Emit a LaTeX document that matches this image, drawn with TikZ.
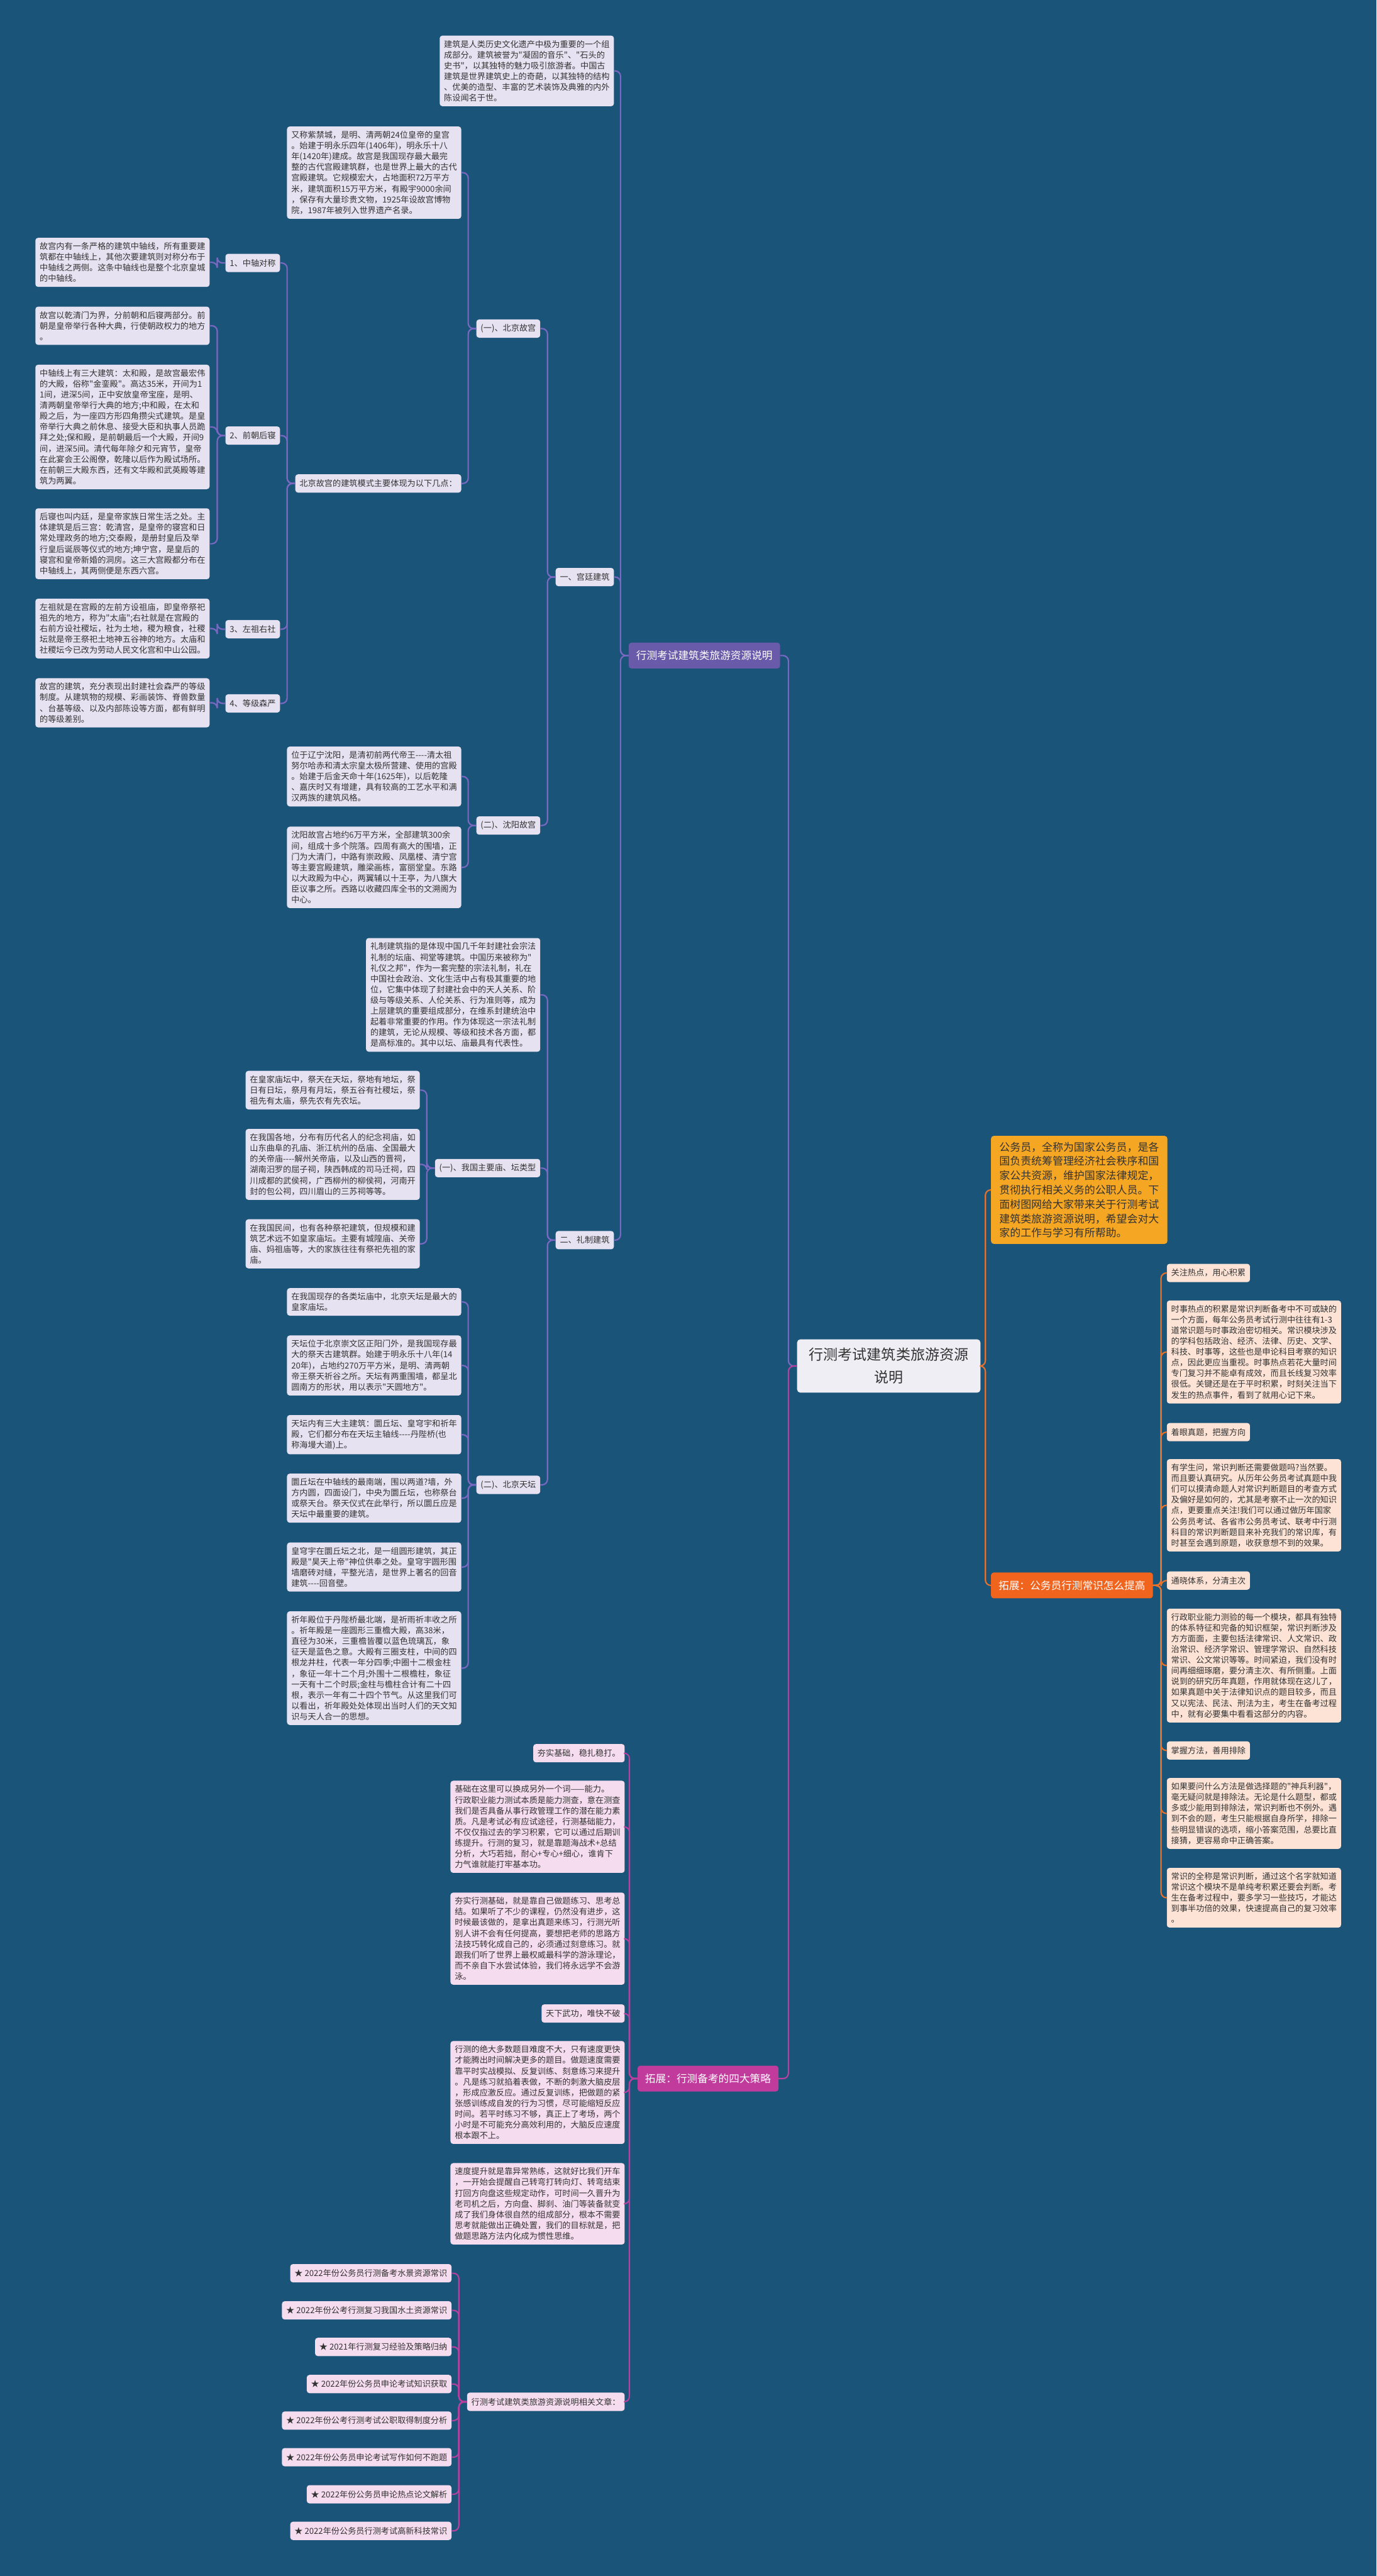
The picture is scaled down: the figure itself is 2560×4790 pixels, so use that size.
\documentclass[tikz,border=0pt]{standalone}
\usepackage{fontspec}
\setmainfont{Noto Sans CJK SC}[Ligatures=TeXOff]
\usepackage{tikz}
\usetikzlibrary{positioning}

\definecolor{bgblue}{HTML}{1B5479}
\definecolor{pdark}{HTML}{6A5AAA}
\definecolor{pline}{HTML}{7B68C4}
\definecolor{plight}{HTML}{E6E2F2}
\definecolor{odark}{HTML}{F0641E}
\definecolor{oline}{HTML}{E8722A}
\definecolor{oyellow}{HTML}{F5A623}
\definecolor{olight}{HTML}{FCE3D5}
\definecolor{mdark}{HTML}{C03B9C}
\definecolor{mline}{HTML}{B8409E}
\definecolor{mlight}{HTML}{F6DCEF}
\definecolor{rootfill}{HTML}{EEEEF4}
\definecolor{txt}{HTML}{333333}

\newcommand\txtsize{\fontsize{15.4}{20}\selectfont}
\newcommand\brsize{\fontsize{19.5}{24}\selectfont}
\newcommand\introsize{\fontsize{19.8}{26.7}\selectfont}
\newcommand\rootsize{\fontsize{27}{42}\selectfont}

\begin{document}
\begin{tikzpicture}[x=1pt, y=-1pt,
  every node/.style={text=txt},
  tbox/.style={fill=#1, rounded corners=5pt, inner xsep=8pt, inner ysep=8.5pt,
    text width=308pt, align=left, font=\txtsize},
  lbl/.style={fill=#1, rounded corners=5pt, inner xsep=8pt, inner ysep=4pt,
    minimum height=34pt, font=\txtsize},
  blbl/.style={fill=#1, text=white, rounded corners=5pt, inner xsep=14pt,
    minimum height=48pt, font=\brsize},
  rootbox/.style={fill=rootfill, rounded corners=6pt, inner xsep=22pt,
    inner ysep=16pt, align=center, font=\rootsize},
  link/.style={draw=#1, line width=2.5pt, rounded corners=10pt}]

\useasboundingbox (0,0) rectangle (2560,4790);
\fill[bgblue] (0,0) rectangle (2560,4790);

% root
\node[rootbox] (root) at (1653,2540) {行测考试建筑类旅游资源\\说明};

% branch: building tourism resources
\node[blbl=pdark, anchor=east] (pb) at (1451,1219) {行测考试建筑类旅游资源说明};
\node[tbox=plight, anchor=north east] (pintro) at (1142,66) {建筑是人类历史文化遗产中极为重要的一个组\\成部分。建筑被誉为"凝固的音乐"、"石头的\\史书"，以其独特的魅力吸引旅游者。中国古\\建筑是世界建筑史上的奇葩，以其独特的结构\\、优美的造型、丰富的艺术装饰及典雅的内外\\陈设闻名于世。};
\node[lbl=plight, anchor=east] (gongting) at (1142,1073) {一、宫廷建筑};
\node[lbl=plight, anchor=east] (lizhi) at (1142,2306) {二、礼制建筑};

% palace buildings
\node[lbl=plight, anchor=east] (gugong) at (1005,611) {(一)、北京故宫};
\node[lbl=plight, anchor=east] (shenyang) at (1005,1535) {(二)、沈阳故宫};
\node[tbox=plight, anchor=north east] (gugongtxt) at (858,235) {又称紫禁城，是明、清两朝24位皇帝的皇宫\\。始建于明永乐四年(1406年)，明永乐十八\\年(1420年)建成。故宫是我国现存最大最完\\整的古代宫殿建筑群，也是世界上最大的古代\\宫殿建筑。它规模宏大，占地面积72万平方\\米，建筑面积15万平方米，有殿宇9000余间\\，保存有大量珍贵文物，1925年设故宫博物\\院，1987年被列入世界遗产名录。};
\node[lbl=plight, anchor=east] (moshi) at (858,899) {北京故宫的建筑模式主要体现为以下几点：};

\node[lbl=plight, anchor=east] (zhou) at (521,489) {1、中轴对称};
\node[lbl=plight, anchor=east] (qian) at (521,810) {2、前朝后寝};
\node[lbl=plight, anchor=east] (zuo) at (521,1170) {3、左祖右社};
\node[lbl=plight, anchor=east] (deng) at (521,1308) {4、等级森严};

\node[tbox=plight, anchor=north east] (zhoutxt) at (390,442) {故宫内有一条严格的建筑中轴线，所有重要建\\筑都在中轴线上，其他次要建筑则对称分布于\\中轴线之两侧。这条中轴线也是整个北京皇城\\的中轴线。};
\node[tbox=plight, anchor=north east] (qiantxtA) at (390,570) {故宫以乾清门为界，分前朝和后寝两部分。前\\朝是皇帝举行各种大典，行使朝政权力的地方\\。};
\node[tbox=plight, anchor=north east] (qiantxtB) at (390,678) {中轴线上有三大建筑：太和殿，是故宫最宏伟\\的大殿，俗称"金銮殿"。高达35米，开间为1\\1间，进深5间，正中安放皇帝宝座，是明、\\清两朝皇帝举行大典的地方;中和殿，在太和\\殿之后，为一座四方形四角攒尖式建筑。是皇\\帝举行大典之前休息、接受大臣和执事人员跪\\拜之处;保和殿，是前朝最后一个大殿，开间9\\间，进深5间。清代每年除夕和元宵节，皇帝\\在此宴会王公阁僚，乾隆以后作为殿试场所。\\在前朝三大殿东西，还有文华殿和武英殿等建\\筑为两翼。};
\node[tbox=plight, anchor=north east] (qiantxtC) at (390,945) {后寝也叫内廷，是皇帝家族日常生活之处。主\\体建筑是后三宫：乾清宫，是皇帝的寝宫和日\\常处理政务的地方;交泰殿，是册封皇后及举\\行皇后诞辰等仪式的地方;坤宁宫，是皇后的\\寝宫和皇帝新婚的洞房。这三大宫殿都分布在\\中轴线上，其两侧便是东西六宫。};
\node[tbox=plight, anchor=north east] (zuotxt) at (390,1113) {左祖就是在宫殿的左前方设祖庙，即皇帝祭祀\\祖先的地方，称为"太庙";右社就是在宫殿的\\右前方设社稷坛，社为土地，稷为粮食，社稷\\坛就是帝王祭祀土地神五谷神的地方。太庙和\\社稷坛今已改为劳动人民文化宫和中山公园。};
\node[tbox=plight, anchor=north east] (dengtxt) at (390,1261) {故宫的建筑，充分表现出封建社会森严的等级\\制度。从建筑物的规模、彩画装饰、脊兽数量\\、台基等级、以及内部陈设等方面，都有鲜明\\的等级差别。};

\node[tbox=plight, anchor=north east] (sytxtA) at (858,1388) {位于辽宁沈阳，是清初前两代帝王----清太祖\\努尔哈赤和清太宗皇太极所营建、使用的宫殿\\。始建于后金天命十年(1625年)，以后乾隆\\、嘉庆时又有增建，具有较高的工艺水平和满\\汉两族的建筑风格。};
\node[tbox=plight, anchor=north east] (sytxtB) at (858,1537) {沈阳故宫占地约6万平方米，全部建筑300余\\间，组成十多个院落。四周有高大的围墙，正\\门为大清门，中路有崇政殿、凤凰楼、清宁宫\\等主要宫殿建筑，雕梁画栋，富丽堂皇。东路\\以大政殿为中心，两翼辅以十王亭，为八旗大\\臣议事之所。西路以收藏四库全书的文溯阁为\\中心。};

% ritual buildings
\node[tbox=plight, anchor=north east] (lztxt) at (1005,1744) {礼制建筑指的是体现中国几千年封建社会宗法\\礼制的坛庙、祠堂等建筑。中国历来被称为"\\礼仪之邦"，作为一套完整的宗法礼制，礼在\\中国社会政治、文化生活中占有极其重要的地\\位，它集中体现了封建社会中的天人关系、阶\\级与等级关系、人伦关系、行为准则等，成为\\上层建筑的重要组成部分，在维系封建统治中\\起着非常重要的作用。作为体现这一宗法礼制\\的建筑，无论从规模、等级和技术各方面，都\\是高标准的。其中以坛、庙最具有代表性。};
\node[lbl=plight, anchor=east] (miaotan) at (1005,2172) {(一)、我国主要庙、坛类型};
\node[lbl=plight, anchor=east] (tiantan) at (1005,2761) {(二)、北京天坛};

\node[tbox=plight, anchor=north east] (mtA) at (781,1991) {在皇家庙坛中，祭天在天坛，祭地有地坛，祭\\日有日坛，祭月有月坛，祭五谷有社稷坛，祭\\祖先有太庙，祭先农有先农坛。};
\node[tbox=plight, anchor=north east] (mtB) at (781,2099) {在我国各地，分布有历代名人的纪念祠庙，如\\山东曲阜的孔庙、浙江杭州的岳庙、全国最大\\的关帝庙----解州关帝庙，以及山西的晋祠，\\湖南汨罗的屈子祠，陕西韩成的司马迁祠，四\\川成都的武侯祠，广西柳州的柳侯祠，河南开\\封的包公祠，四川眉山的三苏祠等等。};
\node[tbox=plight, anchor=north east] (mtC) at (781,2267) {在我国民间，也有各种祭祀建筑，但规模和建\\筑艺术远不如皇家庙坛。主要有城隍庙、关帝\\庙、妈祖庙等，大的家族往往有祭祀先祖的家\\庙。};

\node[tbox=plight, anchor=north east] (ttA) at (858,2395) {在我国现存的各类坛庙中，北京天坛是最大的\\皇家庙坛。};
\node[tbox=plight, anchor=north east] (ttB) at (858,2483) {天坛位于北京崇文区正阳门外，是我国现存最\\大的祭天古建筑群。始建于明永乐十八年(14\\20年)，占地约270万平方米，是明、清两朝\\帝王祭天祈谷之所。天坛有两重围墙，都呈北\\圆南方的形状，用以表示"天圆地方"。};
\node[tbox=plight, anchor=north east] (ttC) at (858,2631) {天坛内有三大主建筑：圜丘坛、皇穹宇和祈年\\殿，它们都分布在天坛主轴线----丹陛桥(也\\称海墁大道)上。};
\node[tbox=plight, anchor=north east] (ttD) at (858,2740) {圜丘坛在中轴线的最南端，围以两道?墙，外\\方内圆，四面设门，中央为圜丘坛，也称祭台\\或祭天台。祭天仪式在此举行，所以圜丘应是\\天坛中最重要的建筑。};
\node[tbox=plight, anchor=north east] (ttE) at (858,2868) {皇穹宇在圜丘坛之北，是一组圆形建筑，其正\\殿是"昊天上帝"神位供奉之处。皇穹宇圆形围\\墙磨砖对缝，平整光洁，是世界上著名的回音\\建筑----回音壁。};
\node[tbox=plight, anchor=north east] (ttF) at (858,2996) {祈年殿位于丹陛桥最北端，是祈雨祈丰收之所\\。祈年殿是一座圆形三重檐大殿，高38米，\\直径为30米，三重檐皆覆以蓝色琉璃瓦，象\\征天是蓝色之意。大殿有三圈支柱，中间的四\\根龙井柱，代表一年分四季;中圈十二根金柱\\，象征一年十二个月;外围十二根檐柱，象征\\一天有十二个时辰;金柱与檐柱合计有二十四\\根，表示一年有二十四个节气。从这里我们可\\以看出，祈年殿处处体现出当时人们的天文知\\识与天人合一的思想。};

% branch: general knowledge (right side)
\node[fill=oyellow, rounded corners=5pt, inner xsep=15.5pt, inner ysep=11pt,
  text width=297pt, align=left, font=\introsize, anchor=north west] (ointro) at (1843,2112) {公务员，全称为国家公务员，是各\\国负责统筹管理经济社会秩序和国\\家公共资源，维护国家法律规定，\\贯彻执行相关义务的公职人员。下\\面树图网给大家带来关于行测考试\\建筑类旅游资源说明，希望会对大\\家的工作与学习有所帮助。};
\node[blbl=odark, anchor=west] (ob) at (1843,2948) {拓展：公务员行测常识怎么提高};

\node[lbl=olight, anchor=west] (oL1) at (2170,2367) {关注热点，用心积累};
\node[tbox=olight, anchor=north west] (oT1) at (2170,2418) {时事热点的积累是常识判断备考中不可或缺的\\一个方面，每年公务员考试行测中往往有1-3\\道常识题与时事政治密切相关。常识模块涉及\\的学科包括政治、经济、法律、历史、文学、\\科技、时事等，这些也是申论科目考察的知识\\点，因此更应当重视。时事热点若花大量时间\\专门复习并不能卓有成效，而且长线复习效率\\很低。关键还是在于平时积累，时刻关注当下\\发生的热点事件，看到了就用心记下来。};
\node[lbl=olight, anchor=west] (oL2) at (2170,2663) {着眼真题，把握方向};
\node[tbox=olight, anchor=north west] (oT2) at (2170,2713) {有学生问，常识判断还需要做题吗?当然要。\\而且要认真研究。从历年公务员考试真题中我\\们可以摸清命题人对常识判断题目的考查方式\\及偏好是如何的，尤其是考察不止一次的知识\\点，更要重点关注!我们可以通过做历年国家\\公务员考试、各省市公务员考试、联考中行测\\科目的常识判断题目来补充我们的常识库，有\\时甚至会遇到原题，收获意想不到的效果。};
\node[lbl=olight, anchor=west] (oL3) at (2170,2939) {通晓体系，分清主次};
\node[tbox=olight, anchor=north west] (oT3) at (2170,2991) {行政职业能力测验的每一个模块，都具有独特\\的体系特征和完备的知识框架，常识判断涉及\\方方面面，主要包括法律常识、人文常识、政\\治常识、经济学常识、管理学常识、自然科技\\常识、公文常识等等。时间紧迫，我们没有时\\间再细细琢磨，要分清主次、有所侧重。上面\\说到的研究历年真题，作用就体现在这儿了，\\如果真题中关于法律知识点的题目较多，而且\\又以宪法、民法、刑法为主，考生在备考过程\\中，就有必要集中看看这部分的内容。};
\node[lbl=olight, anchor=west] (oL4) at (2170,3255) {掌握方法，善用排除};
\node[tbox=olight, anchor=north west] (oT4) at (2170,3306) {如果要问什么方法是做选择题的"神兵利器"，\\毫无疑问就是排除法。无论是什么题型，都或\\多或少能用到排除法，常识判断也不例外。遇\\到不会的题，考生只能根据自身所学，排除一\\些明显错误的选项，缩小答案范围，总要比直\\接猜，更容易命中正确答案。};
\node[tbox=olight, anchor=north west] (oT5) at (2170,3473) {常识的全称是常识判断，通过这个名字就知道\\常识这个模块不是单纯考积累还要会判断。考\\生在备考过程中，要多学习一些技巧，才能达\\到事半功倍的效果，快速提高自己的复习效率\\。};

% branch: four strategies
\node[blbl=mdark, anchor=east] (mb) at (1448,3865) {拓展：行测备考的四大策略};
\node[lbl=mlight, anchor=east] (mL1) at (1162,3260) {夯实基础，稳扎稳打。};
\node[tbox=mlight, anchor=north east] (mT1) at (1162,3311) {基础在这里可以换成另外一个词——能力。\\行政职业能力测试本质是能力测查，意在测查\\我们是否具备从事行政管理工作的潜在能力素\\质。凡是考试必有应试途径，行测基础能力，\\不仅仅指过去的学习积累，它可以通过后期训\\练提升。行测的复习，就是靠题海战术+总结\\分析，大巧若拙，耐心+专心+细心，谁肯下\\力气谁就能打牢基本功。};
\node[tbox=mlight, anchor=north east] (mT2) at (1162,3519) {夯实行测基础，就是靠自己做题练习、思考总\\结。如果听了不少的课程，仍然没有进步，这\\时候最该做的，是拿出真题来练习，行测光听\\别人讲不会有任何提高，要想把老师的思路方\\法技巧转化成自己的，必须通过刻意练习。就\\跟我们听了世界上最权威最科学的游泳理论，\\而不亲自下水尝试体验，我们将永远学不会游\\泳。};
\node[lbl=mlight, anchor=east] (mL2) at (1162,3744) {天下武功，唯快不破};
\node[tbox=mlight, anchor=north east] (mT3) at (1162,3795) {行测的绝大多数题目难度不大，只有速度更快\\才能腾出时间解决更多的题目。做题速度需要\\靠平时实战模拟、反复训练、刻意练习来提升\\。凡是练习就掐着表做，不断的刺激大脑皮层\\，形成应激反应。通过反复训练，把做题的紧\\张感训练成自发的行为习惯，尽可能缩短反应\\时间。若平时练习不够，真正上了考场，两个\\小时是不可能充分高效利用的，大脑反应速度\\根本跟不上。};
\node[tbox=mlight, anchor=north east] (mT4) at (1162,4022) {速度提升就是靠异常熟练，这就好比我们开车\\，一开始会提醒自己转弯打转向灯、转弯结束\\打回方向盘这些规定动作，可时间一久晋升为\\老司机之后，方向盘、脚刹、油门等装备就变\\成了我们身体很自然的组成部分，根本不需要\\思考就能做出正确处置，我们的目标就是，把\\做题思路方法内化成为惯性思维。};
\node[lbl=mlight, anchor=east] (rel) at (1162,4466) {行测考试建筑类旅游资源说明相关文章：};

\node[lbl=mlight, anchor=east] (art1) at (840,4227) {★ 2022年份公务员行测备考水景资源常识};
\node[lbl=mlight, anchor=east] (art2) at (840,4296) {★ 2022年份公考行测复习我国水土资源常识};
\node[lbl=mlight, anchor=east] (art3) at (840,4364) {★ 2021年行测复习经验及策略归纳};
\node[lbl=mlight, anchor=east] (art4) at (840,4433) {★ 2022年份公务员申论考试知识获取};
\node[lbl=mlight, anchor=east] (art5) at (840,4501) {★ 2022年份公考行测考试公职取得制度分析};
\node[lbl=mlight, anchor=east] (art6) at (840,4569) {★ 2022年份公务员申论考试写作如何不跑题};
\node[lbl=mlight, anchor=east] (art7) at (840,4638) {★ 2022年份公务员申论热点论文解析};
\node[lbl=mlight, anchor=east] (art8) at (840,4706) {★ 2022年份公务员行测考试高新科技常识};

% connectors
\draw[link=pline] (root.west) -- ++(-16,0) |- (pb.east);
\draw[link=mline] (root.west) -- ++(-16,0) |- (mb.east);
\foreach \c in {ointro,ob}
  \draw[link=oline] (root.east) -- ++(9,0) |- (\c.west);

\foreach \p/\c in {pb/pintro, pb/gongting, pb/lizhi,
    gongting/gugong, gongting/shenyang, gugong/gugongtxt, gugong/moshi,
    moshi/zhou, moshi/qian, moshi/zuo, moshi/deng,
    zhou/zhoutxt, qian/qiantxtA, qian/qiantxtB, qian/qiantxtC,
    zuo/zuotxt, deng/dengtxt, shenyang/sytxtA, shenyang/sytxtB,
    lizhi/lztxt, lizhi/miaotan, lizhi/tiantan,
    miaotan/mtA, miaotan/mtB, miaotan/mtC,
    tiantan/ttA, tiantan/ttB, tiantan/ttC, tiantan/ttD, tiantan/ttE, tiantan/ttF}
  \draw[link=pline] (\p.west) -- ++(-15,0) |- (\c.east);

\foreach \c in {oL1,oT1,oL2,oT2,oL3,oT3,oL4,oT4,oT5}
  \draw[link=oline] (ob.east) -- ++(15,0) |- (\c.west);

\foreach \c in {mL1,mT1,mT2,mL2,mT3,mT4,rel}
  \draw[link=mline] (mb.west) -- ++(-15,0) |- (\c.east);
\foreach \c in {art1,art2,art3,art4,art5,art6,art7,art8}
  \draw[link=mline] (rel.west) -- ++(-15,0) |- (\c.east);
\end{tikzpicture}
\end{document}
